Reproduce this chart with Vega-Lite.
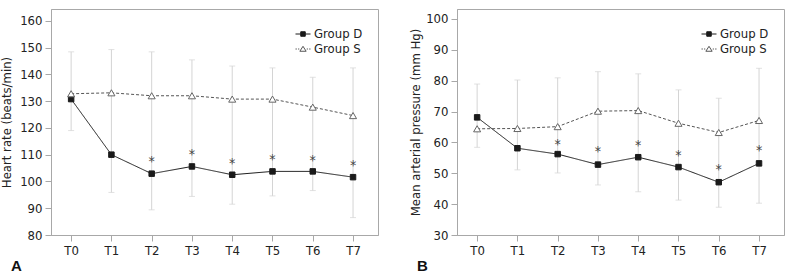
{
  "$schema": "https://vega.github.io/schema/vega-lite/v6.json",
  "padding": {"left": 0, "top": 8, "right": 0, "bottom": 0},
  "datasets": {
    "hr": [
      {"t": 0, "group": "Group D", "mean": 130.75}, {"t": 1, "group": "Group D", "mean": 110}, {"t": 2, "group": "Group D", "mean": 102.9}, {"t": 3, "group": "Group D", "mean": 105.6},
      {"t": 4, "group": "Group D", "mean": 102.5}, {"t": 5, "group": "Group D", "mean": 103.75}, {"t": 6, "group": "Group D", "mean": 103.75}, {"t": 7, "group": "Group D", "mean": 101.6},
      {"t": 0, "group": "Group S", "mean": 132.75}, {"t": 1, "group": "Group S", "mean": 133.1}, {"t": 2, "group": "Group S", "mean": 132}, {"t": 3, "group": "Group S", "mean": 132},
      {"t": 4, "group": "Group S", "mean": 130.75}, {"t": 5, "group": "Group S", "mean": 130.75}, {"t": 6, "group": "Group S", "mean": 127.75}, {"t": 7, "group": "Group S", "mean": 124.6}
    ],
    "hr_err": [
      {"t": 0, "lo": 119, "hi": 148.4}, {"t": 1, "lo": 95.9, "hi": 149.25}, {"t": 2, "lo": 89.4, "hi": 148.4}, {"t": 3, "lo": 94.4, "hi": 145.4},
      {"t": 4, "lo": 91.5, "hi": 143.1}, {"t": 5, "lo": 94.6, "hi": 142.4}, {"t": 6, "lo": 96.6, "hi": 138.9}, {"t": 7, "lo": 86.5, "hi": 142.4}
    ],
    "hr_sig": [
      {"t": 2, "y": 108.4}, {"t": 3, "y": 110.9}, {"t": 4, "y": 107.75}, {"t": 5, "y": 109.1}, {"t": 6, "y": 108.75}, {"t": 7, "y": 106.75}
    ],
    "map": [
      {"t": 0, "group": "Group D", "mean": 68.1}, {"t": 1, "group": "Group D", "mean": 58.1}, {"t": 2, "group": "Group D", "mean": 56.2}, {"t": 3, "group": "Group D", "mean": 52.8},
      {"t": 4, "group": "Group D", "mean": 55.2}, {"t": 5, "group": "Group D", "mean": 52.0}, {"t": 6, "group": "Group D", "mean": 47.1}, {"t": 7, "group": "Group D", "mean": 53.2},
      {"t": 0, "group": "Group S", "mean": 64.4}, {"t": 1, "group": "Group S", "mean": 64.5}, {"t": 2, "group": "Group S", "mean": 65.1}, {"t": 3, "group": "Group S", "mean": 70.1},
      {"t": 4, "group": "Group S", "mean": 70.3}, {"t": 5, "group": "Group S", "mean": 66.2}, {"t": 6, "group": "Group S", "mean": 63.2}, {"t": 7, "group": "Group S", "mean": 67.1}
    ],
    "map_err": [
      {"t": 0, "lo": 58.4, "hi": 78.9}, {"t": 1, "lo": 51.1, "hi": 80.2}, {"t": 2, "lo": 50.1, "hi": 80.9}, {"t": 3, "lo": 46.2, "hi": 82.9},
      {"t": 4, "lo": 44.0, "hi": 82.2}, {"t": 5, "lo": 41.3, "hi": 77.0}, {"t": 6, "lo": 39.0, "hi": 74.3}, {"t": 7, "lo": 40.3, "hi": 84.0}
    ],
    "map_sig": [
      {"t": 2, "y": 60.0}, {"t": 3, "y": 57.9}, {"t": 4, "y": 59.7}, {"t": 5, "y": 56.6}, {"t": 6, "y": 52.1}, {"t": 7, "y": 58.3}
    ]
  },
  "hconcat": [
    {
      "width": 327, "height": 226,
      "title": {"text": "A", "orient": "bottom", "anchor": "start", "frame": "group", "fontSize": 15, "fontWeight": "bold", "font": "Liberation Sans", "color": "#111", "dx": -40, "offset": 2},
      "layer": [
        {
          "data": {"name": "hr_err"},
          "mark": {"type": "rule", "color": "#d4d4d4", "strokeWidth": 1},
          "encoding": {
            "x": {"field": "t", "type": "quantitative", "scale": {"domain": [-0.5, 7.62], "nice": false, "zero": false}, "axis": {"values": [0,1,2,3,4,5,6,7], "labelExpr": "'T' + datum.value", "title": null, "labelOverlap": false}},
            "y": {"field": "lo", "type": "quantitative", "scale": {"domain": [80, 164.4], "nice": false, "zero": false}, "axis": {"values": [80,90,100,110,120,130,140,150,160], "tickCount": 9, "labelOverlap": false, "title": "Heart rate (beats/min)"}},
            "y2": {"field": "hi"}
          }
        },
        {
          "data": {"name": "hr_err"},
          "mark": {"type": "tick", "orient": "horizontal", "color": "#d4d4d4", "size": 6, "thickness": 1},
          "encoding": {"x": {"field": "t", "type": "quantitative"}, "y": {"field": "lo", "type": "quantitative"}}
        },
        {
          "data": {"name": "hr_err"},
          "mark": {"type": "tick", "orient": "horizontal", "color": "#d4d4d4", "size": 6, "thickness": 1},
          "encoding": {"x": {"field": "t", "type": "quantitative"}, "y": {"field": "hi", "type": "quantitative"}}
        },
        {
          "data": {"name": "hr"},
          "mark": {"type": "line", "strokeWidth": 1},
          "encoding": {
            "x": {"field": "t", "type": "quantitative"},
            "y": {"field": "mean", "type": "quantitative"},
            "color": {"field": "group", "type": "nominal", "scale": {"domain": ["Group D", "Group S"], "range": ["#1a1a1a", "#555555"]},
              "legend": {"orient": "none", "legendX": 244, "legendY": 17, "title": null, "padding": 0, "symbolSize": 225, "symbolStrokeWidth": 1, "labelFontSize": 13, "labelColor": "#222", "labelOffset": 3, "rowPadding": 0,
                "encode": {"symbols": {"update": {
                  "shape": {"signal": "datum.value === 'Group D' ? 'M-1,0H1M-0.3,-0.3H0.3V0.3H-0.3Z' : 'M-1,0H-0.82M-0.66,0H-0.5M0.5,0H0.66M0.82,0H1M0,-0.36L0.42,0.3H-0.42Z'"},
                  "fill": {"signal": "datum.value === 'Group D' ? '#1a1a1a' : '#ffffff'"},
                  "stroke": {"signal": "datum.value === 'Group D' ? '#1a1a1a' : '#666666'"},
                  "strokeDash": {"value": []}
                }}}}},
            "strokeDash": {"field": "group", "type": "nominal", "scale": {"domain": ["Group D", "Group S"], "range": [[1, 0], [3, 2]]}, "legend": null}
          }
        },
        {
          "data": {"name": "hr"},
          "mark": {"type": "point", "filled": false, "opacity": 1, "strokeWidth": 1},
          "encoding": {
            "x": {"field": "t", "type": "quantitative"},
            "y": {"field": "mean", "type": "quantitative"},
            "shape": {"field": "group", "type": "nominal", "scale": {"domain": ["Group D", "Group S"], "range": ["square", "triangle-up"]}, "legend": null},
            "fill": {"field": "group", "type": "nominal", "scale": {"domain": ["Group D", "Group S"], "range": ["#1a1a1a", "#ffffff"]}, "legend": null},
            "stroke": {"field": "group", "type": "nominal", "scale": {"domain": ["Group D", "Group S"], "range": ["#1a1a1a", "#666666"]}, "legend": null},
            "size": {"field": "group", "type": "nominal", "scale": {"domain": ["Group D", "Group S"], "range": [30, 50]}, "legend": null}
          }
        },
        {
          "data": {"name": "hr_sig"},
          "mark": {"type": "text", "text": "*", "fontSize": 14, "color": "#444444", "baseline": "middle", "dy": 3},
          "encoding": {"x": {"field": "t", "type": "quantitative"}, "y": {"field": "y", "type": "quantitative"}}
        }
      ]
    },
    {
      "width": 327, "height": 226,
      "title": {"text": "B", "orient": "bottom", "anchor": "start", "frame": "group", "fontSize": 15, "fontWeight": "bold", "font": "Liberation Sans", "color": "#111", "dx": -40, "offset": 2},
      "layer": [
        {
          "data": {"name": "map_err"},
          "mark": {"type": "rule", "color": "#d4d4d4", "strokeWidth": 1},
          "encoding": {
            "x": {"field": "t", "type": "quantitative", "scale": {"domain": [-0.5, 7.62], "nice": false, "zero": false}, "axis": {"values": [0,1,2,3,4,5,6,7], "labelExpr": "'T' + datum.value", "title": null, "labelOverlap": false}},
            "y": {"field": "lo", "type": "quantitative", "scale": {"domain": [30, 103.2], "nice": false, "zero": false}, "axis": {"values": [30,40,50,60,70,80,90,100], "tickCount": 8, "labelOverlap": false, "titlePadding": 3, "title": "Mean arterial pressure (mm Hg)"}},
            "y2": {"field": "hi"}
          }
        },
        {
          "data": {"name": "map_err"},
          "mark": {"type": "tick", "orient": "horizontal", "color": "#d4d4d4", "size": 6, "thickness": 1},
          "encoding": {"x": {"field": "t", "type": "quantitative"}, "y": {"field": "lo", "type": "quantitative"}}
        },
        {
          "data": {"name": "map_err"},
          "mark": {"type": "tick", "orient": "horizontal", "color": "#d4d4d4", "size": 6, "thickness": 1},
          "encoding": {"x": {"field": "t", "type": "quantitative"}, "y": {"field": "hi", "type": "quantitative"}}
        },
        {
          "data": {"name": "map"},
          "mark": {"type": "line", "strokeWidth": 1},
          "encoding": {
            "x": {"field": "t", "type": "quantitative"},
            "y": {"field": "mean", "type": "quantitative"},
            "color": {"field": "group", "type": "nominal", "scale": {"domain": ["Group D", "Group S"], "range": ["#1a1a1a", "#555555"]},
              "legend": {"orient": "none", "legendX": 244, "legendY": 17, "title": null, "padding": 0, "symbolSize": 225, "symbolStrokeWidth": 1, "labelFontSize": 13, "labelColor": "#222", "labelOffset": 3, "rowPadding": 0,
                "encode": {"symbols": {"update": {
                  "shape": {"signal": "datum.value === 'Group D' ? 'M-1,0H1M-0.3,-0.3H0.3V0.3H-0.3Z' : 'M-1,0H-0.82M-0.66,0H-0.5M0.5,0H0.66M0.82,0H1M0,-0.36L0.42,0.3H-0.42Z'"},
                  "fill": {"signal": "datum.value === 'Group D' ? '#1a1a1a' : '#ffffff'"},
                  "stroke": {"signal": "datum.value === 'Group D' ? '#1a1a1a' : '#666666'"},
                  "strokeDash": {"value": []}
                }}}}},
            "strokeDash": {"field": "group", "type": "nominal", "scale": {"domain": ["Group D", "Group S"], "range": [[1, 0], [3, 2]]}, "legend": null}
          }
        },
        {
          "data": {"name": "map"},
          "mark": {"type": "point", "filled": false, "opacity": 1, "strokeWidth": 1},
          "encoding": {
            "x": {"field": "t", "type": "quantitative"},
            "y": {"field": "mean", "type": "quantitative"},
            "shape": {"field": "group", "type": "nominal", "scale": {"domain": ["Group D", "Group S"], "range": ["square", "triangle-up"]}, "legend": null},
            "fill": {"field": "group", "type": "nominal", "scale": {"domain": ["Group D", "Group S"], "range": ["#1a1a1a", "#ffffff"]}, "legend": null},
            "stroke": {"field": "group", "type": "nominal", "scale": {"domain": ["Group D", "Group S"], "range": ["#1a1a1a", "#666666"]}, "legend": null},
            "size": {"field": "group", "type": "nominal", "scale": {"domain": ["Group D", "Group S"], "range": [30, 50]}, "legend": null}
          }
        },
        {
          "data": {"name": "map_sig"},
          "mark": {"type": "text", "text": "*", "fontSize": 14, "color": "#444444", "baseline": "middle", "dy": 3},
          "encoding": {"x": {"field": "t", "type": "quantitative"}, "y": {"field": "y", "type": "quantitative"}}
        }
      ]
    }
  ],
  "resolve": {"scale": {"color": "independent", "y": "independent"}, "legend": {"color": "independent"}},
  "config": {
    "font": "Liberation Sans Narrow, DejaVu Sans Condensed, Liberation Sans, sans-serif",
    "view": {"stroke": "#a8a8a8", "strokeWidth": 1},
    "concat": {"spacing": 30},
    "legend": {"labelFont": "Liberation Sans Narrow, DejaVu Sans Condensed, Liberation Sans, sans-serif"},
    "text": {"font": "Liberation Sans Narrow, DejaVu Sans Condensed, Liberation Sans, sans-serif"},
    "axis": {"grid": false, "labelOverlap": false, "labelFlush": false, "domainColor": "#a8a8a8", "tickColor": "#a8a8a8", "tickSize": 6, "labelFont": "Liberation Sans Narrow, DejaVu Sans Condensed, Liberation Sans, sans-serif", "labelFontSize": 13, "labelColor": "#222222", "labelPadding": 3, "titleFont": "Liberation Sans Narrow, DejaVu Sans Condensed, Liberation Sans, sans-serif", "titleFontSize": 13, "titleFontWeight": "normal", "titleColor": "#222222", "titlePadding": 6}
  }
}
